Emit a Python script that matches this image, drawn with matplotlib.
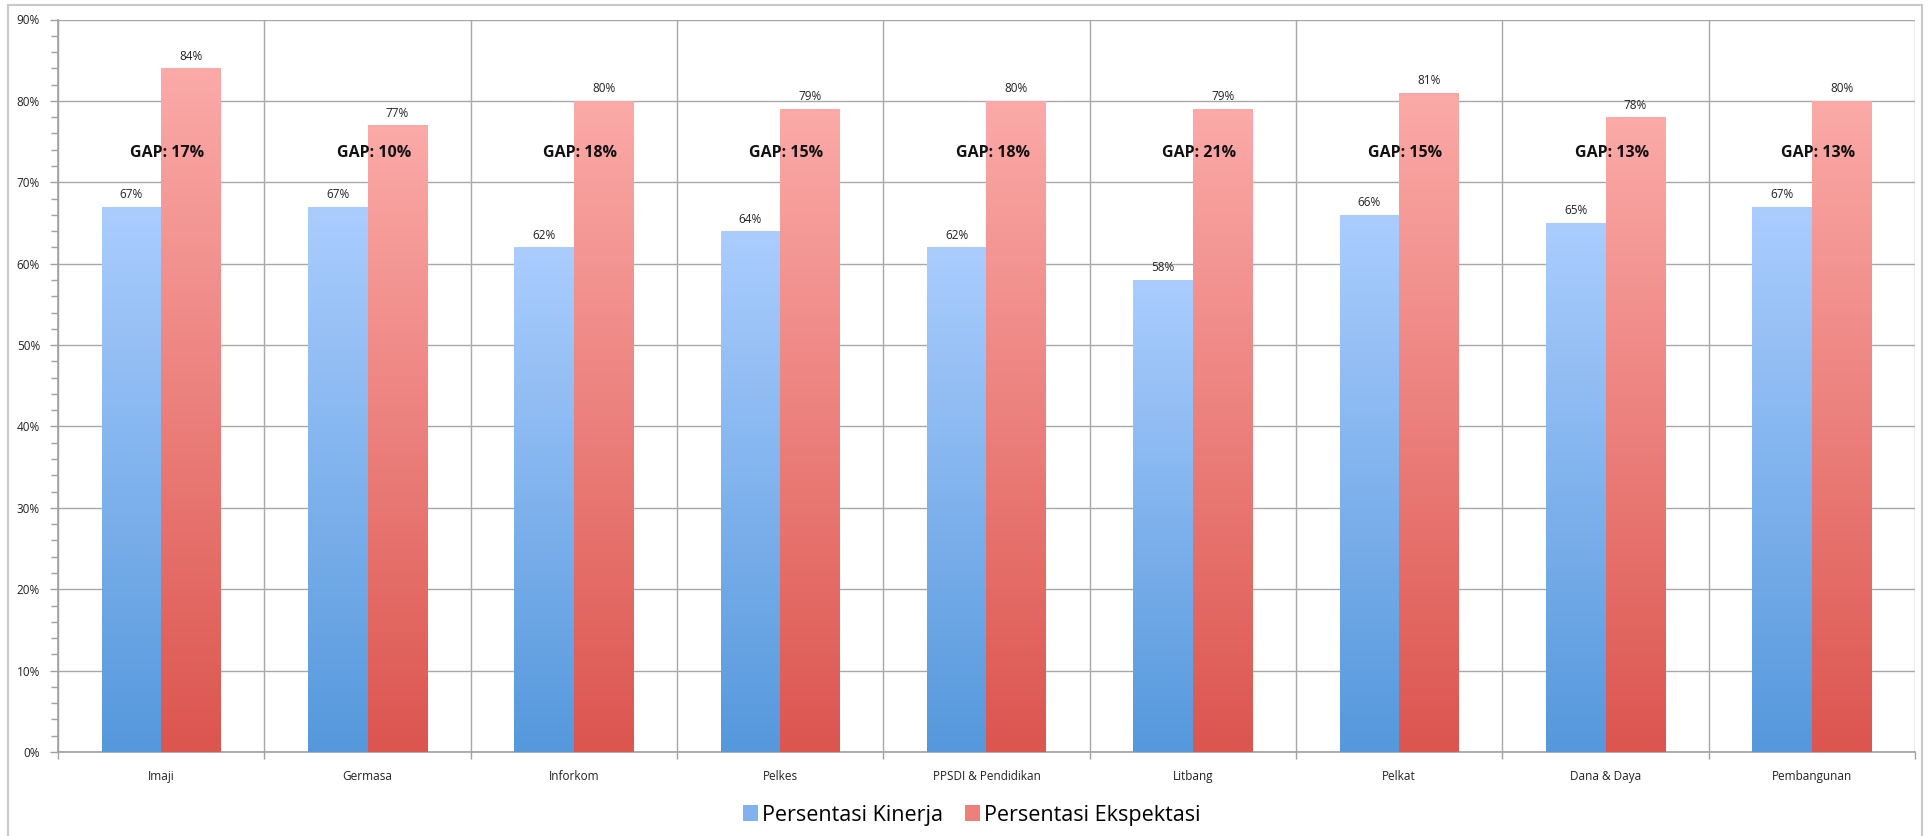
import numpy as np
import matplotlib
matplotlib.use("Agg")
from matplotlib import pyplot as plt
from matplotlib.colors import LinearSegmentedColormap
from matplotlib.patches import Rectangle
from matplotlib.ticker import MultipleLocator, FuncFormatter

plt.rcParams['font.family'] = ['Open Sans', 'DejaVu Sans']

# data
categories = ["Imaji", "Germasa", "Inforkom", "Pelkes", "PPSDI & Pendidikan",
              "Litbang", "Pelkat", "Dana & Daya", "Pembangunan"]
kinerja = [67, 67, 62, 64, 62, 58, 66, 65, 67]
ekspektasi = [84, 77, 80, 79, 80, 79, 81, 78, 80]
gap_labels = ["GAP: 17%", "GAP: 10%", "GAP: 18%", "GAP: 15%", "GAP: 18%",
              "GAP: 21%", "GAP: 15%", "GAP: 13%", "GAP: 13%"]

blue_cmap = LinearSegmentedColormap.from_list("b", ["#5598dc", "#abcdfe"])
red_cmap = LinearSegmentedColormap.from_list("r", ["#dc554f", "#fbaaa8"])

fig = plt.figure(figsize=(19.3, 8.36), dpi=100)
ax = fig.add_axes([58 / 1930, 1 - 752 / 836, (1915 - 58) / 1930, (752 - 19.5) / 836])

# outer frame
fig.patches.append(Rectangle((8 / 1930, -0.01), (1922 - 8) / 1930, 1 - 5 / 836 + 0.01,
                             transform=fig.transFigure, fill=False,
                             edgecolor="#c8c8c8", linewidth=1.5))

x = np.arange(len(categories))
w = 0.289
grad = np.linspace(0, 1, 256).reshape(-1, 1)

bars_b = ax.bar(x - w / 2, kinerja, w, color="none", zorder=3)
bars_r = ax.bar(x + w / 2, ekspektasi, w, color="none", zorder=3)

for bars, cmap in ((bars_b, blue_cmap), (bars_r, red_cmap)):
    for b in bars:
        x0, h = b.get_x(), b.get_height()
        im = ax.imshow(grad, cmap=cmap, origin="lower", aspect="auto",
                       extent=[x0, x0 + b.get_width(), 0, h], zorder=3)
        im.set_clip_path(b)

# value labels
for i in range(len(categories)):
    ax.annotate(f"{kinerja[i]}%", (x[i] - w / 2, kinerja[i]), xytext=(0, 4),
                textcoords="offset points", ha="center", va="bottom",
                fontsize=8.5, color="#222222", zorder=5)
    ax.annotate(f"{ekspektasi[i]}%", (x[i] + w / 2, ekspektasi[i]), xytext=(0, 4),
                textcoords="offset points", ha="center", va="bottom",
                fontsize=8.5, color="#222222", zorder=5)
    ax.text(x[i] + 0.03, 73.6, gap_labels[i], ha="center", va="center",
            fontsize=11.5, fontweight="bold", color="#111111", zorder=6)

ax.set_xlim(-0.5, len(categories) - 0.5)
ax.set_ylim(0, 90)

# axes styling
ax.yaxis.set_major_locator(MultipleLocator(10))
ax.yaxis.set_minor_locator(MultipleLocator(2))
ax.yaxis.set_major_formatter(FuncFormatter(lambda v, p: f"{int(v)}%"))
ax.set_xticks(x)
ax.set_xticklabels(categories)
ax.set_xticks(np.arange(-0.5, len(categories)), minor=True)
ax.tick_params(axis="x", which="major", length=0, pad=13, labelsize=8.5, labelcolor="#222222")
ax.tick_params(axis="x", which="minor", length=5, color="#a0a0a0", width=1)
ax.tick_params(axis="y", which="major", length=6, color="#a0a0a0", width=1,
               labelsize=8.5, labelcolor="#222222", pad=7)
ax.tick_params(axis="y", which="minor", length=5, color="#a0a0a0", width=1)

ax.grid(axis="y", which="major", color="#a8a8a8", linewidth=1, zorder=0)
ax.grid(axis="x", which="minor", color="#a8a8a8", linewidth=1, zorder=0)
ax.set_axisbelow(True)
for s in ("top", "right"):
    ax.spines[s].set_visible(False)
for s in ("left", "bottom"):
    ax.spines[s].set_color("#a0a0a0")
    ax.spines[s].set_linewidth(1.2)

# legend
handles = [Rectangle((0, 0), 1, 1, facecolor="#7fb2ee"),
           Rectangle((0, 0), 1, 1, facecolor="#ee807c")]
fig.legend(handles, ["Persentasi Kinerja", "Persentasi Ekspektasi"],
           loc="center", bbox_to_anchor=(972 / 1930, 1 - 815 / 836), ncol=2,
           frameon=False, fontsize=15.5, handlelength=0.7, handleheight=0.7,
           handletextpad=0.2, columnspacing=1.0)

fig.savefig("out.png", dpi=100)
